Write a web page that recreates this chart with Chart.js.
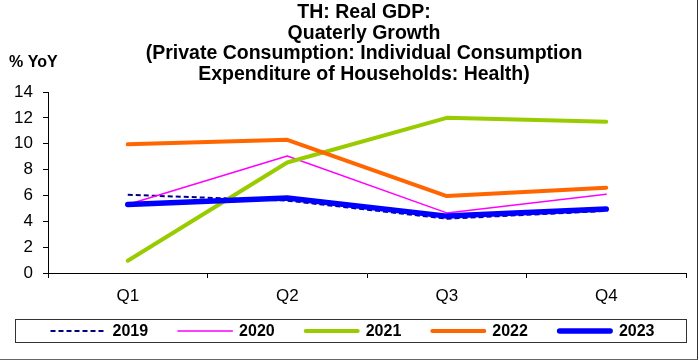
<!DOCTYPE html>
<html>
<head>
<meta charset="utf-8">
<script src="https://cdn.jsdelivr.net/npm/chart.js@4.4.1/dist/chart.umd.min.js"></script>
<style>
  html, body { margin: 0; padding: 0; background: #fff; }
  #wrap { width: 697px; height: 359px; border-right: 1px solid #333; border-bottom: 1px solid #666; position: relative; }
</style>
</head>
<body>
<div id="wrap"><canvas id="chart"></canvas></div>
<script>
// dane
const quarters = ['Q1', 'Q2', 'Q3', 'Q4'];
const y2019 = [6.05, 5.6, 4.2, 4.8];
const y2020 = [5.3, 9.05, 4.65, 6.1];
const y2021 = [0.95, 8.55, 12.0, 11.7];
const y2022 = [9.95, 10.3, 5.95, 6.6];
const y2023 = [5.3, 5.8, 4.4, 4.95];
const titleLines = ['TH: Real GDP:', 'Quaterly Growth', '(Private Consumption: Individual Consumption', 'Expenditure of Households: Health)'];
const yAxisLabel = '% YoY';

const FONT = '"Liberation Sans", Arial, sans-serif';

function series(label, data, color, width, order, dash) {
  return {
    label, data,
    borderColor: color,
    backgroundColor: color,
    borderWidth: width,
    borderDash: dash || [],
    borderCapStyle: dash ? 'butt' : 'round',
    borderJoinStyle: 'round',
    pointRadius: 0,
    pointHoverRadius: 0,
    tension: 0,
    fill: false,
    order
  };
}

// tytuł, opis osi Y i legenda w ramce (rysowane ręcznie)
const extras = {
  id: 'extras',
  afterDraw(chart) {
    const ctx = chart.ctx;
    const ca = chart.chartArea;
    ctx.save();
    ctx.fillStyle = '#000';
    ctx.textAlign = 'center';
    ctx.textBaseline = 'middle';
    ctx.font = 'bold 19.5px ' + FONT;
    const cx = (ca.left + ca.right) / 2 - 3;
    titleLines.forEach((t, i) => ctx.fillText(t, cx, 13 + i * 20.5));

    ctx.textAlign = 'left';
    ctx.font = 'bold 16px ' + FONT;
    ctx.fillText(yAxisLabel, 9, ca.top - 29);

    // legenda
    const boxL = 15, boxR = ca.right;
    const cy = chart.height - 28;
    ctx.strokeStyle = '#333';
    ctx.lineWidth = 1;
    ctx.strokeRect(boxL + 0.5, Math.round(cy - 12) + 0.5, boxR - boxL, 23);

    const sample = 56, gap = 6, spacing = 29;
    const items = chart.data.datasets.map(ds => ({ ds, w: ctx.measureText(ds.label).width }));
    const total = items.reduce((s, it) => s + sample + gap + it.w, 0) + spacing * (items.length - 1);
    let x = (boxL + boxR) / 2 - total / 2 + 2;
    items.forEach(({ ds, w }) => {
      ctx.beginPath();
      ctx.strokeStyle = ds.borderColor;
      ctx.lineWidth = ds.borderWidth;
      ctx.lineCap = ds.borderCapStyle;
      ctx.setLineDash(ds.borderDash);
      const inset = ds.borderCapStyle === 'round' ? ds.borderWidth / 2 : 0;
      ctx.moveTo(x + inset, cy);
      ctx.lineTo(x + sample - inset, cy);
      ctx.stroke();
      ctx.setLineDash([]);
      ctx.fillStyle = '#000';
      ctx.fillText(ds.label, x + sample + gap, cy + 1);
      x += sample + gap + w + spacing;
    });
    ctx.restore();
  }
};

new Chart(document.getElementById('chart'), {
  type: 'line',
  data: {
    labels: quarters,
    datasets: [
      series('2019', y2019, '#000080', 2, 5, [5, 3]),
      series('2020', y2020, '#FF00FF', 1.5, 4),
      series('2021', y2021, '#99CC00', 4, 3),
      series('2022', y2022, '#FF6600', 4, 2),
      series('2023', y2023, '#0000FF', 5.5, 1)
    ]
  },
  options: {
    responsive: true,
    maintainAspectRatio: false,
    animation: false,
    layout: { padding: { left: 15, right: 11, top: 92, bottom: 50 } },
    plugins: {
      title: { display: false },
      legend: { display: false },
      tooltip: { enabled: false }
    },
    scales: {
      x: {
        offset: true,
        grid: { offset: true, drawOnChartArea: false, drawTicks: true, tickLength: 5, color: '#000' },
        border: { color: '#000', width: 1 },
        ticks: { color: '#000', padding: 8, font: { family: FONT, size: 17 } },
        afterFit(axis) { axis.height = 36; }
      },
      y: {
        min: 0,
        max: 14,
        ticks: { stepSize: 2, color: '#000', padding: 10, font: { family: FONT, size: 17 } },
        grid: { drawOnChartArea: false, drawTicks: true, tickLength: 5, color: '#000' },
        border: { color: '#000', width: 1 },
        afterFit(axis) { axis.width = 33; }
      }
    }
  },
  plugins: [extras]
});
</script>
</body>
</html>
